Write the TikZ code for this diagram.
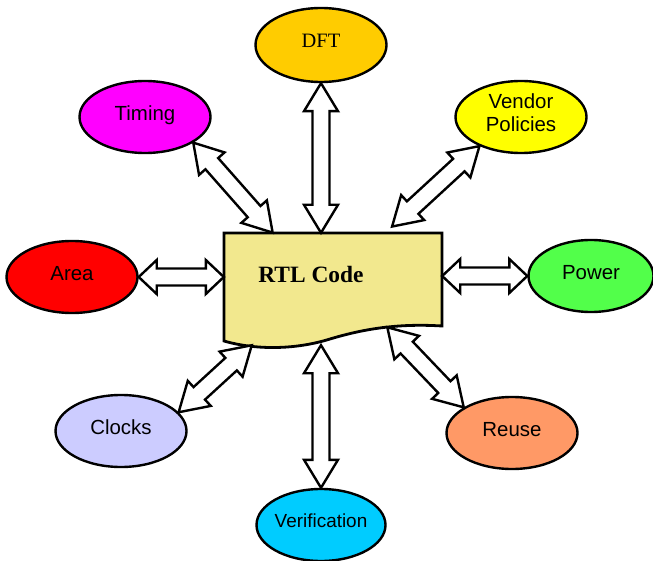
\documentclass[tikz,border=0pt]{standalone}
\usepackage{fontspec}
\setmainfont{Liberation Serif}
\newfontfamily\labelfont{Liberation Sans}
\usetikzlibrary{shapes.geometric,calc}
\definecolor{docfill}{HTML}{F2E88E}
\definecolor{dftfill}{HTML}{FFCC00}
\definecolor{timingfill}{HTML}{FF00FF}
\definecolor{vendorfill}{HTML}{FFFF00}
\definecolor{areafill}{HTML}{FF0000}
\definecolor{powerfill}{HTML}{52FF4A}
\definecolor{clocksfill}{HTML}{CCCCFF}
\definecolor{reusefill}{HTML}{FF9966}
\definecolor{veriffill}{HTML}{00CCFF}
\tikzset{
  topic/.style={ellipse, draw, line width=2.4bp, minimum width=131bp, minimum height=72bp,
                inner sep=0pt, text depth=8bp, align=center,
                font=\labelfont\fontsize{20.5}{23}\selectfont},
  docshape/.style={draw, fill=docfill, line width=2.8bp},
  docarea/.style={minimum width=218bp, minimum height=112bp, inner sep=0pt},
  rtltext/.style={font=\bfseries\fontsize{23.5}{26}\selectfont, inner sep=0pt},
  headlen/.store in=\headlen, headlen=28bp,
  blockarrow/.style={draw, fill=white, line width=2.4bp,
    to path={let \p1=($(\tikztotarget)-(\tikztostart)$), \p2=(\tikztostart),
                 \n1={atan2(\y1,\x1)}, \n2={veclen(\x1,\y1)} in
      {[shift={(\p2)}, rotate=\n1]
        (0pt,0pt) -- (\headlen,17bp) -- (\headlen,8.5bp) -- (\n2-\headlen,8.5bp)
        -- (\n2-\headlen,17bp) -- (\n2,0pt) -- (\n2-\headlen,-17bp)
        -- (\n2-\headlen,-8.5bp) -- (\headlen,-8.5bp) -- (\headlen,-17bp) -- cycle}}},
}

\begin{document}
\begin{tikzpicture}[x=1bp, y=-1bp]
    \useasboundingbox (0,0) rectangle (653,561);
    \draw[docshape] (224,233) -- (442,233) -- (442,326)
      .. controls (395,323) and (360,330) .. (330,339)
      .. controls (295,350) and (255,350) .. (224,341) -- cycle;
    \node[docarea] (doc) at (333,289) {};
    \node[rtltext] (rtl) at (311,274) {RTL Code};

    \node[topic, fill=dftfill, minimum height=74bp, font=\rmfamily\fontsize{20.5}{23}\selectfont] (dft) at (321,45) {DFT};
    \node[topic, fill=timingfill] (timing) at (145,117) {Timing};
    \node[topic, fill=vendorfill] (vendor) at (521,117) {Vendor\\Policies};
    \node[topic, fill=areafill] (area) at (72,277) {Area};
    \node[topic, fill=powerfill, minimum width=125bp] (power) at (591,276) {Power};
    \node[topic, fill=clocksfill] (clocks) at (121,431) {Clocks};
    \node[topic, fill=reusefill] (reuse) at (512,433) {Reuse};
    \node[topic, fill=veriffill, minimum width=129bp, font=\labelfont\fontsize{19}{22}\selectfont] (verif) at (321,525) {\makebox[0pt]{Verification}};

    \draw[blockarrow] (dft.south) to (dft.south |- doc.north);
    \draw[blockarrow] (timing.-28) to ([xshift=49bp]doc.north west);
    \draw[blockarrow] (vendor.-145) to ([shift={(168bp,6bp)}]doc.north west);
    \draw[blockarrow, headlen=18bp] (area.east) to (doc.west |- area.east);
    \draw[blockarrow, headlen=18bp] (doc.east |- power.west) to (power.west);
    \draw[blockarrow] (clocks.18) to ([xshift=28bp]doc.south west);
    \draw[blockarrow] (verif.north) to (verif.north |- doc.south);
    \draw[blockarrow] (reuse.152) to ([shift={(-55bp,18bp)}]doc.south east);
  \end{tikzpicture}
\end{document}
